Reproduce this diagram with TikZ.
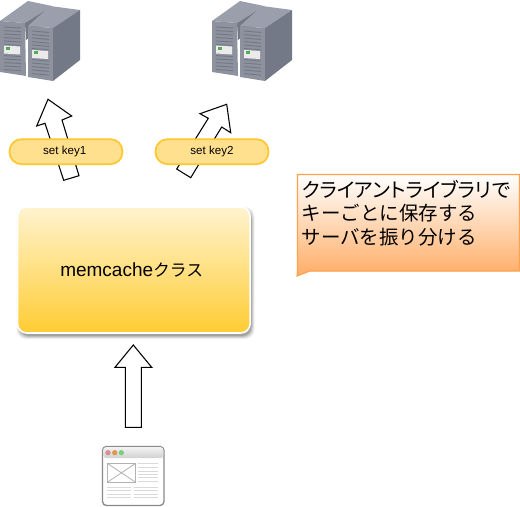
\documentclass[tikz,border=0pt]{standalone}
\usepackage{fontspec}
\setmainfont{Liberation Sans}
\newfontfamily\jpfont{Noto Sans CJK JP}
\newfontfamily\jppal[RawFeature=+palt]{Noto Sans CJK JP}
\definecolor{pillfill}{HTML}{FFE08F}
\definecolor{pillline}{HTML}{FFC72E}
\definecolor{boxtop}{HTML}{FFF3CF}
\definecolor{boxbot}{HTML}{FFCC33}
\definecolor{calline}{HTML}{FFA04D}
\definecolor{calbot}{HTML}{FFAD66}
\definecolor{srvtop}{HTML}{9A9FAB}
\definecolor{srvfront}{HTML}{8D929E}
\definecolor{srvside}{HTML}{747987}
\definecolor{srvslot}{HTML}{737886}
\definecolor{winline}{HTML}{8A8A8E}
\definecolor{winrule}{HTML}{DADADA}
\tikzset{
  px/.style={x=0.75pt,y=-0.75pt},
  blockarrow/.style={draw=black,fill=white,line width=0.8pt,line join=miter},
  pill/.style={draw=pillline,fill=pillfill,line width=1.3pt,rounded corners=9pt,minimum width=84.75pt,minimum height=18.75pt,inner sep=0pt,font=\fontsize{8.7pt}{10pt}\selectfont},
  classbox/.style={draw=white,line width=1.2pt,rounded corners=7pt,top color=boxtop,bottom color=boxbot,minimum width=174.5pt,minimum height=94.5pt,inner sep=0pt},
  callout/.style={draw=calline,line width=0.8pt,top color=white,bottom color=calbot},
  caltext/.style={anchor=west,inner sep=0pt,font=\jpfont\fontsize{14.6pt}{16pt}\selectfont},
  srvt/.style={fill=srvtop,draw=none},
  srvf/.style={fill=srvfront,draw=none},
  srvs/.style={fill=srvside,draw=none},
  slot/.style={draw=srvslot,line width=0.7pt},
  panel/.style={fill=black!8,draw=none},
  led/.style={fill=green!35!gray,draw=none},
  winrulestyle/.style={draw=winrule,line width=0.6pt},
}
\newcommand{\serverpic}[1]{%
\begin{scope}[shift={(#1,0)}]
  \path[srvt] (0,21)--(28,1)--(52,6)--(25,23)--cycle;
  \path[srvf] (0,21)--(25,23)--(26,76)--(0,72)--cycle;
  \path[srvs] (25,23)--(52,6)--(52,20)--(26,40)--cycle;
  \path[srvt] (28,26)--(50,6)--(80,10)--(53,28)--cycle;
  \path[srvf] (28,26)--(53,28)--(53,81)--(28,77)--cycle;
  \path[srvs] (53,28)--(80,10)--(80,60)--(53,81)--cycle;
  \foreach \yy in {0,3.6,7,10.6,14,17.4,28.6,32,35.6,39,42.6}{
    \draw[slot] (4,27+\yy)--(21,28+\yy);
    \draw[slot] (32,31+\yy)--(49,32.5+\yy);
  }
  \path[panel] (4,45.5)--(20,46.5)--(20,54.5)--(4,53.5)--cycle;
  \path[panel] (32,50)--(48,51)--(48,59)--(32,58)--cycle;
  \path[led] (5.5,47.5) rectangle (9.5,50.5);
  \path[led] (33.5,51.5) rectangle (37.5,54.5);
\end{scope}}
\begin{document}
\begin{tikzpicture}[px]
\useasboundingbox (0,0) rectangle (520,506);
\fill[white] (0,0) rectangle (520,506);
% servers
\serverpic{0}
\serverpic{212}
% block arrows
\draw[blockarrow] (48,99.3)--(71.7,116)--(62,120)--(79,175.7)--(63.7,180.3)--(45,123.3)--(36.7,126)--cycle;
\draw[blockarrow] (226.7,104.3)--(230.7,132.7)--(221.7,127)--(190.7,177.7)--(176.7,169)--(208.3,118.3)--(200,113.7)--cycle;
\draw[blockarrow] (133.3,345)--(151.7,367.3)--(141.3,367.3)--(141.3,427.3)--(125.3,427.3)--(125.3,367.3)--(115,367.3)--cycle;
% pills
\node[pill] (key1) at (66,151.7) {set key1\hspace*{2pt}};
\node[pill] (key2) at (212,151.7) {set key2};
% class box
\foreach \gg/\oo in {3/0.06,2/0.09,1/0.12,0/0.15}{
  \fill[black,opacity=\oo,rounded corners=7pt] (18-\gg+1.5,207-\gg+3) rectangle (250+\gg+1.5,333+\gg+3);
}
\node[classbox] (cls) at (133.8,270) {};
\node[inner sep=0pt,anchor=base west] (clslabel) at (60,276.5) {\fontsize{14.25pt}{16pt}\selectfont memcache{\jpfont\fontsize{12.6pt}{16pt}\selectfont クラス}};
% callout
\path[callout] (297.5,174.5)--(519.5,174.5)--(519.5,271)--(310,271)--(297,276)--(297.5,271)--cycle;
\node[caltext,font=\jppal\fontsize{15pt}{16pt}\selectfont] (c1) at (301.5,189) {クライアントライブラリで};
\node[caltext] (c2) at (301.5,213.5) {キーごとに保存する};
\node[caltext] (c3) at (301.5,237) {サーバを振り分ける};
% window icon
\draw[winline,fill=white,line width=1pt,rounded corners=3pt] (102.5,446.5) rectangle (164,505.5);
\path[top color=black!5,bottom color=black!18,rounded corners=2pt] (103.2,447.2) rectangle (163.3,458);
\fill[red!45!gray!60!white] (108,452.7) circle (2.7);
\fill[orange!70!gray!80!white] (114.7,452.7) circle (2.7);
\fill[green!45!gray!70!white] (121.3,452.7) circle (2.7);
\draw[black!30,line width=0.7pt] (107.3,463.3) rectangle (135.7,482.3);
\draw[black!30,line width=0.6pt] (107.3,463.3)--(135.7,482.3) (107.3,482.3)--(135.7,463.3);
\foreach \yy in {463.5,467.5,471,474,477.5,481.5}{\draw[winrulestyle] (138,\yy)--(158,\yy);}
\foreach \yy in {487.5,490.5,494,497.5}{
  \draw[winrulestyle] (107.3,\yy)--(131.3,\yy);
  \draw[winrulestyle] (134,\yy)--(158,\yy);
}
\end{tikzpicture}
\end{document}
